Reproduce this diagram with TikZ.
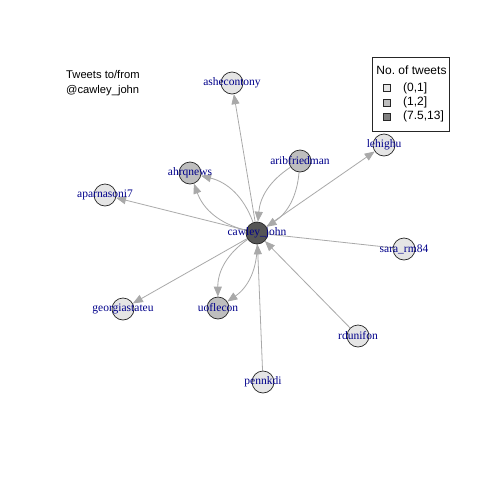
\documentclass[tikz,border=0pt]{standalone}
\usepackage{fontspec}
\setmainfont{Liberation Serif}
\newfontfamily\sansf{Liberation Sans}
\usetikzlibrary{arrows.meta,backgrounds}
\definecolor{lbl}{HTML}{00008B}
\definecolor{edgec}{HTML}{A9A9A9}
\definecolor{vlight}{HTML}{E5E5E5}
\definecolor{vmid}{HTML}{BEBEBE}
\definecolor{vdark}{HTML}{555555}
\definecolor{legdark}{HTML}{7F7F7F}
\begin{document}
\begin{tikzpicture}[x=1pt,y=-1pt,
  vtx/.style={circle,draw=black!85,line width=0.7pt,minimum size=22pt,inner sep=0pt},
  lo/.style={vtx,fill=vlight},
  mid/.style={vtx,fill=vmid},
  hi/.style={vtx,fill=vdark},
  lab/.style={text=lbl,font=\fontsize{11.5}{12}\selectfont,inner sep=0pt},
  edge/.style={draw=edgec,line width=0.8pt,-{Triangle[length=10pt,width=8pt,fill=edgec]}},
  plainedge/.style={draw=edgec,line width=0.8pt},
  sq/.style={draw=black!85,line width=0.5pt,minimum size=7pt,inner sep=0pt},
  legtxt/.style={anchor=west,inner sep=0pt,font=\sansf\fontsize{12}{14}\selectfont}
]
\begin{pgfonlayer}{background}
\fill[white] (0,0) rectangle (480,480);
\end{pgfonlayer}
\useasboundingbox (0,0) rectangle (480,480);

% vertices
\node[hi]  (caw)  at (257,233) {};
\node[lo]  (ash)  at (232,83)  {};
\node[mid] (ahr)  at (190,173) {};
\node[mid] (arib) at (300,161) {};
\node[lo]  (leh)  at (384,145) {};
\node[lo]  (apa)  at (105,195) {};
\node[lo]  (sara) at (404,249) {};
\node[lo]  (geo)  at (123,309) {};
\node[mid] (uof)  at (218,308) {};
\node[lo]  (rdu)  at (358,336) {};
\node[lo]  (pen)  at (263,382) {};

% edges
\begin{pgfonlayer}{background}
\draw[edge] (caw) -- (ash);
\draw[edge] (caw) to[bend left=28] (ahr);
\draw[edge] (caw) to[bend right=28] (ahr);
\draw[edge] (arib) to[bend left=26] (caw);
\draw[edge] (arib) to[bend right=26] (caw);
\draw[edge] (caw) -- (leh);
\draw[edge] (caw) -- (apa);
\draw[plainedge] (sara) -- (caw);
\draw[edge] (caw) -- (geo);
\draw[edge] (caw) to[bend left=28] (uof);
\draw[edge] (caw) to[bend right=28] (uof);
\draw[edge] (rdu) -- (caw);
\draw[edge] (pen) -- (caw);
\end{pgfonlayer}

% labels
\node[lab] (lcaw)  at (caw)  {cawley\_john};
\node[lab] (lash)  at (ash)  {ashecontony};
\node[lab] (lahr)  at (ahr)  {ahrqnews};
\node[lab] (larib) at (arib) {aribfriedman};
\node[lab] (lleh)  at (leh)  {lehighu};
\node[lab] (lapa)  at (apa)  {aparnasoni7};
\node[lab] (lsara) at (sara) {sara\_rm84};
\node[lab] (lgeo)  at (geo)  {georgiastateu};
\node[lab] (luof)  at (uof)  {uoflecon};
\node[lab] (lrdu)  at (rdu)  {rdunifon};
\node[lab] (lpen)  at (pen)  {pennkdi};

% title
\node[anchor=west,align=left,inner sep=0pt,font=\sansf\fontsize{11.2}{15}\selectfont] (title) at (66,83) {Tweets to/from\\@cawley\_john};

% legend
\node[draw=black!85,line width=0.6pt,minimum width=77pt,minimum height=74pt,inner sep=0pt] (leg) at (410.5,94) {};
\node[inner sep=0pt,font=\sansf\fontsize{12}{14}\selectfont] (legt) at (411.5,70) {No.\ of tweets};
\node[sq,fill=vlight] (s1) at (387,88) {};
\node[sq,fill=vmid] (s2) at (387,102.5) {};
\node[sq,fill=legdark] (s3) at (387,116.5) {};
\node[legtxt] (t1) at (403,88) {(0,1]};
\node[legtxt] (t2) at (403,102.5) {(1,2]};
\node[legtxt] (t3) at (403,116.5) {(7.5,13]};
\end{tikzpicture}
\end{document}
